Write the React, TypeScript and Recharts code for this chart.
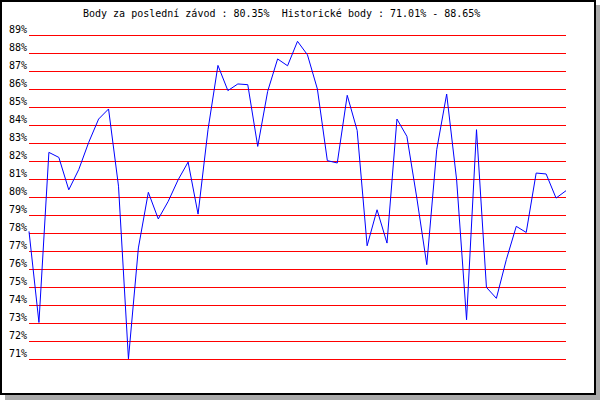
import { LineChart, Line, XAxis, YAxis, CartesianGrid } from "recharts"

// body z jednotlivých závodů (v %)
const races = Array.from({ length: 55 }, (_, i) => i + 1)
const points = [
  78.09, 73.03, 82.48, 82.2, 80.4, 81.52, 83.03, 84.33, 84.89, 80.6,
  71.01, 77.17, 80.26, 78.78, 79.76, 80.96, 81.94, 79.05, 83.74, 87.31,
  85.91, 86.28, 86.24, 82.81, 85.87, 87.67, 87.29, 88.65, 87.9, 86.0,
  82.02, 81.89, 85.65, 83.7, 77.29, 79.29, 77.44, 84.33, 83.37, 79.94,
  76.24, 82.63, 85.72, 80.96, 73.18, 83.74, 74.98, 74.37, 76.52, 78.37,
  78.03, 81.33, 81.28, 79.94, 80.35,
]
const yTicks = [71, 72, 73, 74, 75, 76, 77, 78, 79, 80, 81, 82, 83, 84, 85, 86, 87, 88, 89]

const lastRace = "80.35%"
const histMin = "71.01%"
const histMax = "88.65%"

const mono = "'DejaVu Sans Mono', monospace"

function PctTick({ x, y, payload }: any) {
  return (
    <text x={x} y={y - 2} textAnchor="end" fontFamily={mono} fontSize={10} fill="#000">
      {payload.value}%
    </text>
  )
}

export default function App() {
  const data = races.map((r, i) => ({ race: r, body: points[i] }))

  return (
    <div style={{ position: "absolute", left: 0, top: 0, width: 600, height: 400, background: "#fff" }}>
      <div
        style={{
          position: "absolute",
          left: 0,
          top: 0,
          width: 596,
          height: 395,
          boxSizing: "border-box",
          border: "2px solid #000",
          boxShadow: "5px 5px 0 #aaaaaa",
          background: "#fff",
        }}
      />
      <div
        style={{
          position: "absolute",
          left: 83,
          top: 8,
          fontFamily: mono,
          fontSize: 10,
          lineHeight: "12px",
          whiteSpace: "pre",
          color: "#000",
        }}
      >
        {`Body za poslední závod : ${lastRace}  Historické body : ${histMin} - ${histMax}`}
      </div>
      <div style={{ position: "absolute", left: 0, top: 0 }}>
        <LineChart width={600} height={400} data={data} margin={{ top: 35, right: 34, bottom: 41, left: 0 }}>
          <CartesianGrid vertical={false} stroke="#ff0000" shapeRendering="crispEdges" />
          <XAxis dataKey="race" hide />
          <YAxis
            domain={[71, 89]}
            ticks={yTicks}
            interval={0}
            width={29}
            axisLine={false}
            tickLine={false}
            tickSize={0}
            tickMargin={2}
            tick={<PctTick />}
          />
          <Line
            type="linear"
            dataKey="body"
            stroke="#0000ff"
            strokeWidth={1}
            dot={false}
            activeDot={false}
            isAnimationActive={false}
          />
        </LineChart>
      </div>
    </div>
  )
}
